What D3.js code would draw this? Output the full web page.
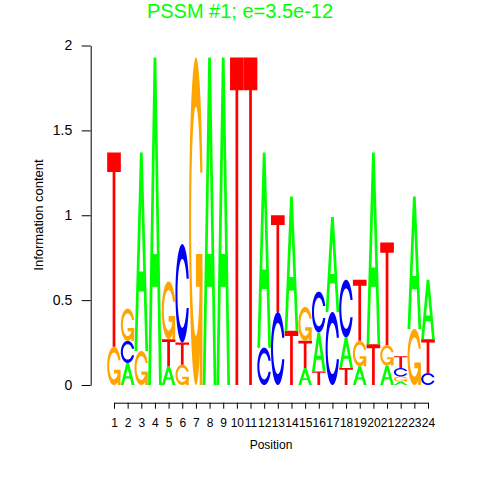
<!DOCTYPE html>
<html>
<head>
<meta charset="utf-8">
<script src="https://cdn.jsdelivr.net/npm/d3@7"></script>
<style>
  html, body { margin: 0; padding: 0; background: #fff; }
  svg { display: block; font-family: "Liberation Sans", Arial, sans-serif; }
</style>
</head>
<body>
<svg id="chart" width="480" height="480"></svg>
<script>
// ---- data (information content per base) ----
const positions = [1,2,3,4,5,6,7,8,9,10,11,12,13,14,15,16,17,18,19,20,21,22,23,24];
const baseA = [0,    0.13, 1.17, 1.93, 0.11, 0,    0,    1.93, 1.93, 0,    0,    1.15, 0,    0.79, 0.10, 0.23, 0.56, 0.18, 0.11, 1.13, 0.115, 0.02, 0.78, 0.35];
const baseC = [0,    0.13, 0,    0,    0,    0.58, 0,    0,    0,    0,    0,    0.22, 0.43, 0,    0,    0.24, 0.43, 0.34, 0,    0,    0,     0.05, 0,    0.07];
const baseG = [0.225,0.19, 0.20, 0,    0.34, 0.12, 1.93, 0,    0,    0,    0,    0,    0,    0,    0.20, 0,    0,    0,    0.15, 0,    0.12,  0.03, 0.33, 0];
const baseT = [1.145,0,    0,    0,    0.16, 0.13, 0,    0,    0,    1.93, 1.93, 0,    0.57, 0.32, 0.16, 0.08, 0,    0.10, 0.36, 0.24, 0.605, 0.07, 0,    0.20];
const yTicks = [0, 0.5, 1, 1.5, 2];
const yTickLabels = ["0", "0.5", "1", "1.5", "2"];
const titleText = "PSSM #1; e=3.5e-12";
const xLabel = "Position";
const yLabel = "Information content";
const baseColors = { A: "#00FF00", C: "#0000FF", G: "#FFA500", T: "#FF0000" };

// ---- scales ----
const svg = d3.select("#chart");
const x = d3.scaleLinear().domain([1, 24]).range([114, 428]);
const y = d3.scaleLinear().domain([0, 2]).range([385, 45.5]);
const half = (x(2) - x(1)) / 2;

// ---- glyph shapes in unit square (seqLogo style) ----
function linspace(a, b, n) { const r = []; for (let i = 0; i < n; i++) r.push(a + (b - a) * i / (n - 1)); return r; }
function cShape() {
  const a1 = linspace(0.3 + Math.PI / 2, Math.PI, 100);
  const a2 = linspace(Math.PI, 1.5 * Math.PI, 100);
  const xl1 = a1.map(a => 0.5 + 0.5 * Math.sin(a)), yl1 = a1.map(a => 0.5 + 0.5 * Math.cos(a));
  const xl2 = a2.map(a => 0.5 + 0.5 * Math.sin(a)), yl2 = a2.map(a => 0.5 + 0.5 * Math.cos(a));
  const xl = xl1.concat(xl2), yl = yl1.concat(yl2);
  const xo = xl.concat(xl.slice().reverse());
  const yo = yl.concat(yl.slice().reverse().map(v => 1 - v));
  const maxY = d3.max(yl1);
  let xi1 = a1.map(a => 0.5 + 0.35 * Math.sin(a)), yi1 = a1.map(a => 0.5 + 0.35 * Math.cos(a));
  const keep = yi1.map(v => v <= maxY);
  xi1 = xi1.filter((v, i) => keep[i]); yi1 = yi1.filter((v, i) => keep[i]);
  yi1[0] = maxY;
  const xi2 = a2.map(a => 0.5 + 0.35 * Math.sin(a)), yi2 = a2.map(a => 0.5 + 0.35 * Math.cos(a));
  const xi = xi1.concat(xi2), yi = yi1.concat(yi2);
  const x1 = xi.concat(xi.slice().reverse());
  const y1 = yi.concat(yi.slice().reverse().map(v => 1 - v));
  const X = xo.concat(x1.slice().reverse()), Y = yo.concat(y1.slice().reverse());
  return { pts: X.map((v, i) => [v, Y[i]]), r1: d3.max(xl1) };
}
const cs = cShape();
const glyphs = {
  A: [[[0,0],[0.4,1],[0.6,1],[1,0],[0.8,0],[0.68,0.3],[0.32,0.3],[0.2,0]], [[0.36,0.4],[0.5,0.75],[0.64,0.4]]],
  C: [cs.pts],
  G: [cs.pts, [[cs.r1,0.4],[0.5,0.4],[0.5,0.3],[cs.r1-0.2,0.3],[cs.r1-0.2,0],[cs.r1,0]]],
  T: [[[0,1],[1,1],[1,0.9],[0.6,0.9],[0.6,0],[0.4,0],[0.4,0.9],[0,0.9]]]
};

function polyPath(pts, pos, b, h) {
  const x0 = x(pos) - half, w = 2 * half;
  return "M" + pts.map(p => (x0 + p[0] * w).toFixed(2) + "," + y(b + p[1] * h).toFixed(2)).join("L") + "Z";
}

// ---- stacks ----
const series = { A: baseA, C: baseC, G: baseG, T: baseT };
const letters = [];
positions.forEach((pos, i) => {
  const col = ["A", "C", "G", "T"].map(k => ({ base: k, h: series[k][i] })).filter(d => d.h > 0);
  col.sort((a, b) => a.h - b.h);
  let b = 0;
  col.forEach(d => { letters.push({ pos, base: d.base, b, h: d.h }); b += d.h; });
});

const gl = svg.append("g").attr("class", "letters");
letters.forEach(L => {
  if (L.base === "A") {
    gl.append("path")
      .attr("d", glyphs.A.map(p => polyPath(p, L.pos, L.b, L.h)).join(""))
      .attr("fill", baseColors.A).attr("fill-rule", "evenodd");
  } else {
    glyphs[L.base].forEach(p => {
      gl.append("path").attr("d", polyPath(p, L.pos, L.b, L.h)).attr("fill", baseColors[L.base]);
    });
  }
});

// ---- axes ----
const yAxis = svg.append("g").attr("transform", "translate(90.7,0)")
  .call(d3.axisLeft(y).tickValues(yTicks).tickFormat((d, i) => yTickLabels[i]).tickSize(9).tickSizeOuter(0).tickPadding(9.5));
yAxis.selectAll("text").attr("font-size", 14).attr("fill", "#000").attr("font-family", "Liberation Sans, Arial, sans-serif");
yAxis.selectAll("line, path").attr("stroke", "#000");

const xAxis = svg.append("g").attr("transform", "translate(0,402.7)")
  .call(d3.axisBottom(x).tickValues(positions).tickSize(6).tickSizeOuter(0).tickPadding(8));
xAxis.selectAll("text").attr("font-size", 12).attr("fill", "#000").attr("font-family", "Liberation Sans, Arial, sans-serif")
  .attr("y", 20).attr("dy", "0.35em");
xAxis.selectAll("line, path").attr("stroke", "#000");

// ---- labels ----
svg.append("text").attr("x", 240).attr("y", 17.5).attr("text-anchor", "middle")
  .attr("font-size", 20).attr("fill", "#00FF00").text(titleText);
svg.append("text").attr("x", 271).attr("y", 445).attr("dy", "0.35em").attr("text-anchor", "middle")
  .attr("font-size", 12).attr("fill", "#000").text(xLabel);
svg.append("text").attr("transform", "translate(38,215) rotate(-90)").attr("dy", "0.35em").attr("text-anchor", "middle")
  .attr("font-size", 13).attr("fill", "#000").text(yLabel);
</script>
</body>
</html>
